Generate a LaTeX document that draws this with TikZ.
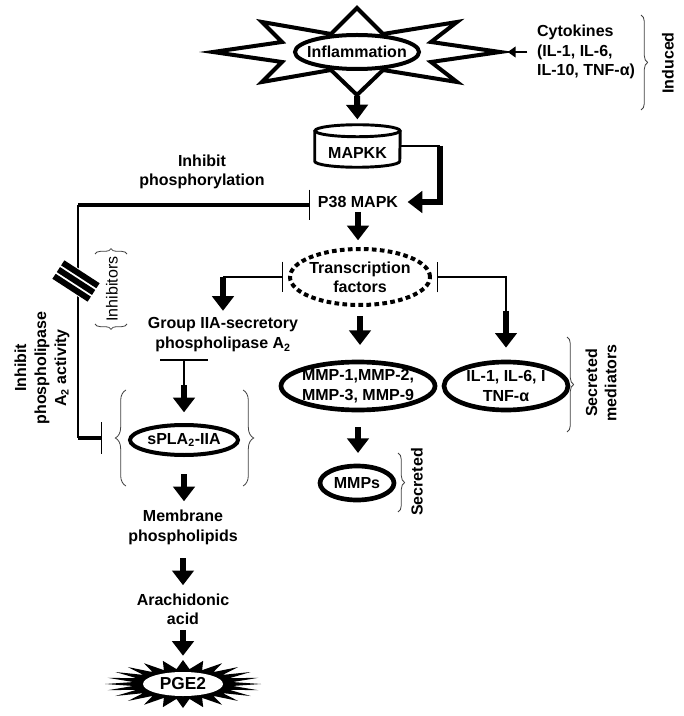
\documentclass[tikz,border=0pt]{standalone}
\usepackage{fontspec}
\setmainfont{Liberation Sans}
\usetikzlibrary{arrows.meta,shapes.geometric,decorations.pathreplacing,calc}

\tikzset{
	lbl/.style={font=\bfseries\fontsize{12}{14.5}\selectfont, align=center, inner sep=0pt},
	oval/.style={shape=ellipse, draw=black, line width=3pt, fill=white, inner sep=0pt},
	fat/.style={line width=4.5pt, -{Triangle[length=11pt,width=16pt]}},
	slim/.style={line width=0.8pt},
	heavy/.style={line width=3.5pt},
	tbar/.style={{Bar[width=23pt,line width=0.8pt 0]}-},
	tbarend/.style={-{Bar[width=24pt,line width=0.8pt 0]}},
	brc/.style={decorate, decoration={brace, amplitude=#1}, draw=black!75, line width=0.6pt},
	brc/.default=6pt
}

\begin{document}
\begin{tikzpicture}[x=0.75pt, y=-0.75pt]
	\useasboundingbox (0,0) rectangle (683,716);
	
	% inflammation star
	\draw[line width=3pt, fill=white, shift={(357,52)}] (0,-44) -- (26,-18) -- (100,-30) -- (74,-10) -- (143,0) -- (74,10) -- (100,30) -- (26,18) -- (0,43) -- (-26,18) -- (-95,30) -- (-75,10) -- (-144,0) -- (-75,-10) -- (-95,-30) -- (-26,-18) -- cycle;
	\node[oval, minimum width=93pt, minimum height=25.5pt, label={[lbl]center:Inflammation}] (infl) at (357,52) {};
	\coordinate (stars) at (357,96);
	\coordinate (stare) at (501,52);
	
	\node[lbl, align=left] (cyto) at (586,52) {Cytokines\\(IL-1, IL-6,\\IL-10, TNF-α)};
	\draw[line width=1.5pt, -{Triangle[length=6pt,width=8pt]}, shorten <=7pt, shorten >=5pt] (cyto.west) -- (stare);
	\draw[brc=5pt] (641,15) -- (641,110);
	\node[lbl, rotate=90] (ind) at (668,63) {Induced};
	
	% MAPKK cylinder
	\node[minimum width=63.75pt, minimum height=31.5pt, inner sep=0pt, label={[lbl,yshift=-5pt]center:MAPKK}] (mapkk) at (357.5,146) {};
	\draw[line width=2.2pt] ($(mapkk.north west)+(0,6)$) -- ($(mapkk.south west)+(0,-6)$) arc[start angle=180, end angle=0, x radius=42.5, y radius=6] -- ($(mapkk.north east)+(0,6)$);
	\draw[line width=2.2pt] ($(mapkk.north)+(0,6)$) ellipse[x radius=42.5, y radius=6];
	\draw[fat, shorten >=4pt] (stars) -- (mapkk.north);
	
	\node[lbl] (p38) at (358,202) {P38 MAPK};
	\draw[slim] (mapkk.east) -- ++(40,0) coordinate (elb);
	\draw[fat, shorten >=7pt] (elb) |- (p38.east);
	
	% inhibition on the left
	\node[lbl] (inhp) at (202,172) {Inhibit\\phosphorylation};
	\coordinate (lt) at (78,205);
	\coordinate (tb) at (102,438);
	\draw[heavy, tbar, shorten <=6pt] (p38.west |- lt) -- (lt);
	\draw[slim] (lt) -- (lt |- tb);
	\draw[heavy, tbarend] (lt |- tb) -- (tb);
	
	\begin{scope}[shift={(76,281)}, rotate=-33]
		\fill[white] (-21,-12) rectangle (21,12);
		\foreach \s in {-8,0,8}
			\fill (-21,\s-3) rectangle (21,\s+3);
	\end{scope}
	
	\node[font=\fontsize{12}{14}\selectfont, rotate=90, inner sep=0pt] (inhtxt) at (112,289) {Inhibitors};
	\draw[brc=4pt] (95,254) -- (127,254);
	\draw[brc=4pt] (127,324) -- (95,324);
	
	\node[lbl, rotate=90, font=\bfseries\fontsize{12}{15}\selectfont] (inhpla) at (42,368) {Inhibit\\phospholipase\\A\textsubscript{2} activity};
	
	% transcription factors
	\node[oval, dash pattern=on 3.5pt off 2.5pt, minimum width=105pt, minimum height=42pt, label={[lbl]center:Transcription\\factors}] (tf) at (360,277) {};
	\draw[fat, shorten <=3pt, shorten >=5pt] (p38.south) -- (p38.south |- tf.north);
	
	\node[lbl, font=\bfseries\fontsize{12}{15}\selectfont] (group) at (223,335) {Group IIA-secretory\\phospholipase A\textsubscript{2}};
	\draw[slim, tbar, shorten <=4pt] (tf.west) -- (tf.west -| group.north) coordinate (gk);
	\draw[fat, shorten >=5pt] (gk) -- (group.north);
	
	\node[oval, minimum width=81pt, minimum height=22.5pt, label={[lbl]center:sPLA\textsubscript{2}-IIA}] (spla) at (184,440) {};
	\coordinate (gbar) at (184,360);
	\draw[slim] ($(gbar)+(-24,0)$) -- ($(gbar)+(24,0)$);
	\draw[slim] (gbar) -- ++(0,25) coordinate (gk2);
	\draw[fat, shorten >=8pt] (gk2) -- (spla.north);
	\draw[brc=8pt] (126,486) -- (126,390);
	\draw[brc=8pt] (243,390) -- (243,486);
	
	\node[lbl, font=\bfseries\fontsize{12}{15}\selectfont] (memb) at (183,527) {Membrane\\phospholipids};
	\draw[fat, shorten <=13pt, shorten >=6pt] (spla.south) -- (spla.south |- memb.north);
	\node[lbl] (arach) at (183,609) {Arachidonic\\acid};
	\draw[fat, shorten <=10pt, shorten >=6pt] (memb.south) -- (arach.north);
	
	% PGE2 burst
	\fill[shift={(183,684)}] (78,0) \foreach \k in {1,...,47}{ -- ({ifthenelse(mod(\k,2)==0,78,50)*cos(\k*7.5)}, {ifthenelse(mod(\k,2)==0,24,15)*sin(\k*7.5)}) } -- cycle;
	\node[shape=ellipse, fill=white, minimum width=60pt, minimum height=18pt, inner sep=0pt, label={[lbl, font=\bfseries\fontsize{13}{15}\selectfont]center:PGE2}] (pge) at (183,684) {};
	\draw[fat, shorten <=4pt, shorten >=12pt] (arach.south) -- (pge.north);
	
	% MMPs and mediators
	\node[oval, line width=3.5pt, minimum width=115.5pt, minimum height=36pt, label={[lbl]center:MMP-1,MMP-2,\\MMP-3, MMP-9}] (mmp) at (358,386) {};
	\draw[fat, shorten <=7pt, shorten >=11pt] (tf.south) -- (tf.south |- mmp.north);
	\node[oval, line width=3.5pt, minimum width=93pt, minimum height=36pt, label={[lbl]center:IL-1, IL-6, I\\TNF-α}] (il) at (506,386) {};
	\coordinate (ik) at ($(il.north)+(0,-49)$);
	\draw[slim, tbar, shorten <=4pt] (tf.east) -| (ik);
	\draw[fat, shorten >=9pt] (ik) -- (il.north);
	\draw[brc=5pt] (567,337) -- (567,432);
	\node[lbl, rotate=90] (secm) at (601,383) {Secreted\\mediators};
	
	\node[oval, line width=3.5pt, minimum width=55.5pt, minimum height=25.5pt, label={[lbl]center:MMPs}] (mmps) at (357,483) {};
	\draw[fat, shorten <=11pt, shorten >=8pt] (mmp.south) -- (mmp.south |- mmps.north);
	\draw[brc=5pt] (398,453) -- (398,512);
	\node[lbl, rotate=90] (sec) at (417,482) {Secreted};
	
\end{tikzpicture}
\end{document}
